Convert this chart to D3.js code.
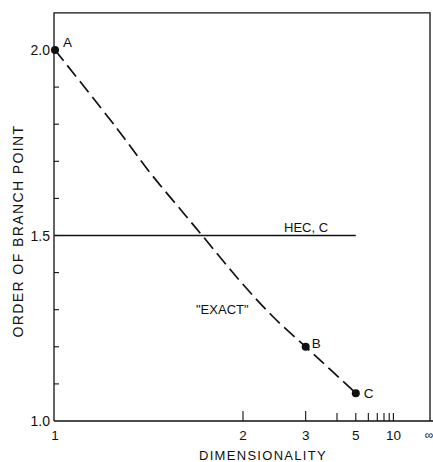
<!DOCTYPE html>
<html>
<head>
<meta charset="utf-8">
<script src="https://cdn.jsdelivr.net/npm/d3@7"></script>
<style>
  html, body { margin: 0; padding: 0; background: #fff; }
  text { font-family: "Liberation Sans", Arial, sans-serif; fill: #111; }
</style>
</head>
<body>
<svg id="chart" width="433" height="462"></svg>
<script>
// Dimensionality samples along the "exact" branch-point curve and the order at each
const dims   = [1, 1.2, 1.34, 1.52, 1.65, 1.96, 2.38, 3, 3.76, 5];
const orders = [2.0, 1.786, 1.668, 1.56, 1.497, 1.38, 1.281, 1.2, 1.137, 1.075];

// Labelled points on the curve
const pointNames  = ["A", "B", "C"];
const pointDims   = [1, 3, 5];
const pointOrders = [2.0, 1.2, 1.075];

// HEC constant value, running from d = 1 to d = 5
const hecDims  = [1, 5];
const hecOrder = 1.5;

// Axis ticks
const xTickDims   = [2, 3, 4, 5, 6, 7, 8, 9, 10];
const xLabelDims  = [1, 2, 3, 5, 10];
const xLabelTexts = ["1", "2", "3", "5", "10"];
const yTicks      = [1.1, 1.2, 1.3, 1.4, 1.5, 1.6, 1.7, 1.8, 1.9, 2.0];
const yLabelVals  = [1.0, 1.5, 2.0];
const yLabelTexts = ["1.0", "1.5", "2.0"];

const svg = d3.select("#chart");
const ink = "#111";

// Horizontal axis is linear in 1 - 1/d, so d = infinity sits at the right end
const u = d3.scaleLinear().domain([0, 1]).range([55, 431]);
const x = d => u(1 - 1 / d);
const y = d3.scaleLinear().domain([1, 2.1]).range([421, 12.9]);

const frameL = u(0) - 1, frameR = 430, frameT = y(2.1), frameB = y(1);

// Frame
svg.append("path")
  .attr("d", `M${frameL},${frameB} L${frameL},${frameT} L${frameR},${frameT} L${frameR},${frameB}`)
  .attr("fill", "none").attr("stroke", ink).attr("stroke-width", 1.3);
svg.append("line")
  .attr("x1", frameL).attr("x2", 433).attr("y1", frameB).attr("y2", frameB)
  .attr("stroke", ink).attr("stroke-width", 1.3);

// Ticks on the bottom axis, pointing into the plot
svg.append("g").selectAll("line").data(xTickDims).join("line")
  .attr("x1", d => x(d)).attr("x2", d => x(d))
  .attr("y1", frameB).attr("y2", d => frameB - (d === 2 || d === 3 ? 10 : 8))
  .attr("stroke", ink).attr("stroke-width", 1.1);

svg.append("g").selectAll("text").data(xLabelDims).join("text")
  .attr("x", d => x(d)).attr("y", 440)
  .attr("text-anchor", "middle").attr("font-size", 13.5)
  .text((d, i) => xLabelTexts[i]);
svg.append("text")
  .attr("x", u(1) - 2).attr("y", 439)
  .attr("text-anchor", "middle").attr("font-size", 12)
  .text("∞");

// Ticks on the left axis, pointing into the plot
svg.append("g").selectAll("line").data(yTicks).join("line")
  .attr("x1", frameL).attr("x2", frameL + 5)
  .attr("y1", d => y(d)).attr("y2", d => y(d))
  .attr("stroke", ink).attr("stroke-width", 1.1);

svg.append("g").selectAll("text").data(yLabelVals).join("text")
  .attr("x", 50).attr("y", d => y(d) + 5)
  .attr("text-anchor", "end").attr("font-size", 14)
  .text((d, i) => yLabelTexts[i]);

// Axis titles
svg.append("text")
  .attr("x", 263).attr("y", 460)
  .attr("text-anchor", "middle").attr("font-size", 13)
  .attr("letter-spacing", 1.3)
  .text("DIMENSIONALITY");
svg.append("text")
  .attr("transform", `translate(23,231) rotate(-90)`)
  .attr("text-anchor", "middle").attr("font-size", 14)
  .attr("letter-spacing", 1.4)
  .text("ORDER OF BRANCH POINT");

// HEC line
svg.append("line")
  .attr("x1", x(hecDims[0])).attr("x2", x(hecDims[1]))
  .attr("y1", y(hecOrder)).attr("y2", y(hecOrder))
  .attr("stroke", ink).attr("stroke-width", 1.5);
svg.append("text")
  .attr("x", 284).attr("y", y(hecOrder) - 4)
  .attr("font-size", 13).text("HEC, C");

// "Exact" curve
const line = d3.line()
  .x((d, i) => x(dims[i]))
  .y((d, i) => y(orders[i]))
  .curve(d3.curveCatmullRom.alpha(0.5));
svg.append("path")
  .datum(dims)
  .attr("d", line)
  .attr("fill", "none").attr("stroke", ink)
  .attr("stroke-width", 1.7).attr("stroke-dasharray", "14,6");
svg.append("text")
  .attr("x", 196).attr("y", 314)
  .attr("font-size", 13).text("\"EXACT\"");

// Labelled points
svg.append("g").selectAll("circle").data(pointDims).join("circle")
  .attr("cx", d => x(d)).attr("cy", (d, i) => y(pointOrders[i]))
  .attr("r", 4).attr("fill", ink);
const labelDx = [8, 6, 8], labelDy = [-3, 1, 5];
svg.append("g").selectAll("text").data(pointDims).join("text")
  .attr("x", (d, i) => x(d) + labelDx[i])
  .attr("y", (d, i) => y(pointOrders[i]) + labelDy[i])
  .attr("font-size", 13.5)
  .text((d, i) => pointNames[i]);
</script>
</body>
</html>
